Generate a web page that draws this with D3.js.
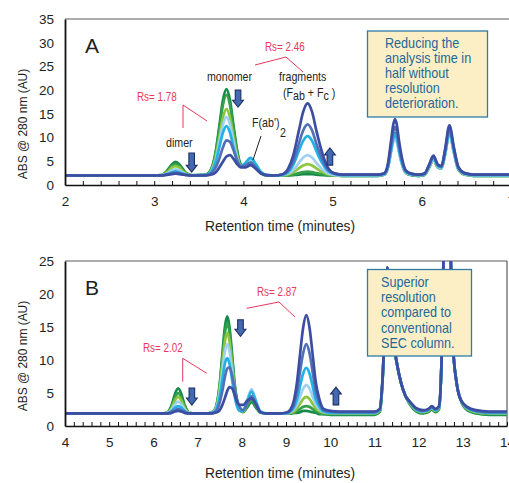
<!DOCTYPE html>
<html><head><meta charset="utf-8">
<script src="https://cdn.jsdelivr.net/npm/d3@7"></script>
<style>
html,body{margin:0;padding:0;background:#fff;}
svg{display:block;}
</style></head><body>
<svg id="chart" width="509" height="483"></svg>
<script>
// ---------------- DATA ----------------
const seriesNames = ["run 1","run 2","run 3","run 4","run 5","run 6","run 7"];
const seriesColors = ["#15894a","#35a04a","#8cc63f","#a0d0f2","#21b1e6","#5170b8","#3c4ea2"];

const xTicksA = [2,3,4,5,6,7];
const yTicksA = [0,5,10,15,20,25,30,35];
const xTicksB = [4,5,6,7,8,9,10,11,12,13,14];
const yTicksB = [0,5,10,15,20,25];

const timeA = [2.0,2.6,3.0,3.08,3.12,3.16,3.2,3.24,3.28,3.32,3.36,3.42,3.5,3.58,3.64,3.69,3.73,3.77,3.81,3.85,3.89,3.93,3.97,4.02,4.08,4.14,4.2,4.27,4.35,4.43,4.5,4.56,4.62,4.67,4.72,4.77,4.82,4.88,4.95,5.03,5.12,5.3,5.5,5.58,5.62,5.655,5.68,5.7,5.72,5.745,5.78,5.82,5.88,5.96,6.03,6.08,6.13,6.18,6.22,6.26,6.31,6.36,6.41,6.48,6.58,6.75,7.0];

const absA1 = [2.0,2.0,2.0, 2.1,2.5,3.4,4.4,4.9,4.4,3.4,2.5,2.1, 2.1,2.2,3.4,7.1,12.4,17.8,20.2,17.8,12.4,7.3,4.4,3.9,4.3,3.5,2.4,2.0, 2.0,2.0,2.0,2.1,2.2,2.3,2.3,2.3,2.2,2.1,2.0,2.0, 1.9,1.9,1.9,2.2,3.7,7.4,10.0,10.9,10.0,7.4,4.4,2.6,2.1,1.9, 2.1,3.6,5.4,3.7,3.5,6.5,11.2,7.0,3.3,2.2,1.9,1.9,1.9];
const absA2 = [2.0,2.0,2.0, 2.1,2.4,3.1,4.0,4.4,4.0,3.1,2.4,2.0, 2.1,2.2,3.3,6.8,11.7,16.8,19.0,16.8,11.7,6.9,4.3,4.0,4.5,3.6,2.5,2.0, 2.0,2.0,2.1,2.2,2.5,2.7,2.8,2.7,2.5,2.3,2.1,2.0, 1.9,1.9,1.9,2.2,3.7,7.3,9.9,10.8,9.9,7.3,4.3,2.6,2.1,1.9, 2.1,3.6,5.4,3.7,3.5,6.4,11.1,6.9,3.3,2.2,1.9,1.9,1.9];
const absA3 = [2.0,2.0,2.0, 2.1,2.4,2.9,3.7,4.0,3.7,2.9,2.4,2.0, 2.1,2.1,3.1,5.9,10.0,14.2,16.0,14.2,10.0,6.1,4.1,4.2,4.9,3.9,2.5,2.1, 2.0,2.0,2.2,2.7,3.5,4.1,4.4,4.1,3.5,2.8,2.2,2.0, 2.0,2.0,2.0,2.2,3.7,7.2,9.7,10.6,9.7,7.2,4.4,2.7,2.2,2.0, 2.2,3.7,5.5,3.8,3.6,6.5,11.0,7.0,3.4,2.3,2.0,2.0,2.0];
const absA4 = [2.0,2.0,2.0, 2.1,2.2,2.6,3.1,3.3,3.1,2.6,2.2,2.0, 2.1,2.1,2.9,5.4,9.0,12.7,14.3,12.7,9.0,5.7,4.1,4.5,5.4,4.2,2.6,2.1, 2.0,2.1,2.4,3.2,4.6,5.8,6.3,5.8,4.6,3.4,2.4,2.1, 2.0,2.0,2.0,2.2,3.6,6.8,9.0,9.8,9.0,6.8,4.2,2.6,2.2,2.0, 2.2,3.7,5.4,3.8,3.5,6.3,10.6,6.7,3.3,2.3,2.0,2.0,2.0];
const absA5 = [2.0,2.0,2.0, 2.0,2.2,2.4,2.7,2.9,2.7,2.4,2.2,2.0, 2.1,2.1,2.8,4.9,7.9,11.0,12.4,11.0,7.9,5.2,3.9,4.6,5.7,4.4,2.7,2.1, 2.0,2.1,2.7,4.3,7.1,9.3,10.3,9.3,7.1,4.7,2.9,2.3, 2.1,2.1,2.1,2.3,3.8,7.3,9.8,10.7,9.8,7.3,4.5,2.8,2.3,2.1, 2.3,3.9,5.7,4.0,3.7,6.6,11.1,7.1,3.5,2.4,2.1,2.1,2.1];
const absA6 = [2.0,2.0,2.0, 2.0,2.1,2.3,2.5,2.6,2.5,2.3,2.1,2.0, 2.0,2.1,2.5,3.7,5.6,7.9,9.4,9.1,7.3,5.2,4.0,4.1,4.7,3.7,2.5,2.1, 2.0,2.2,3.0,5.0,8.6,11.5,12.8,11.5,8.6,5.6,3.2,2.4, 2.2,2.2,2.2,2.5,4.2,8.3,11.2,12.2,11.2,8.3,5.0,3.0,2.4,2.2, 2.4,4.1,6.0,4.2,3.9,7.1,12.0,7.6,3.7,2.5,2.2,2.2,2.2];
const absA7 = [2.0,2.0,2.0, 2.0,2.1,2.2,2.3,2.4,2.3,2.2,2.1,2.0, 2.0,2.0,2.2,2.7,3.7,4.9,6.0,6.3,5.5,4.4,3.7,3.7,4.2,3.4,2.4,2.0, 2.0,2.2,3.4,6.3,11.3,15.4,17.2,15.4,11.3,7.0,3.6,2.4, 2.2,2.2,2.2,2.5,4.5,9.3,12.7,13.9,12.7,9.3,5.5,3.1,2.4,2.2, 2.4,4.2,6.2,4.3,4.0,7.4,12.6,7.9,3.8,2.5,2.2,2.2,2.2];

const timeB = [4.0,5.0,5.9,6.2,6.3,6.36,6.42,6.49,6.56,6.63,6.7,6.76,6.82,6.92,7.05,7.2,7.3,7.39,7.45,7.51,7.56,7.62,7.67,7.72,7.78,7.83,7.89,7.95,8.03,8.12,8.22,8.32,8.42,8.55,8.7,8.85,9.0,9.1,9.18,9.25,9.32,9.39,9.46,9.53,9.6,9.67,9.75,9.85,10.0,10.2,10.6,11.0,11.12,11.18,11.23,11.29,11.35,11.42,11.5,11.6,11.7,11.8,11.95,12.1,12.22,12.3,12.38,12.46,12.52,12.58,12.65,12.72,12.78,12.85,12.95,13.1,13.3,13.6,14.0];

const absB1 = [1.9,1.9,1.9, 1.9,2.0,2.4,3.3,4.9,5.7,4.9,3.3,2.4,2.0,1.9, 1.9,1.9,2.0,2.5,3.9,7.0,10.9,15.1,16.6,15.1,10.9,7.0,3.9,2.5,2.1, 2.8,3.6,2.8,2.0,1.9,1.9, 1.9,1.9,1.9,2.0,2.0,2.1,2.3,2.3,2.2,2.1,2.0,1.8,1.8,1.7, 1.7,1.7,1.7,2.1,6.2,14,24.0,19,13.5,9.8,6.6,4.6,3.3,2.2,1.9,2.1,2.5,2.1,2.5,10,30,36,27,12,7,4.0,2.4,1.9,1.7,1.7];
const absB2 = [1.9,1.9,1.9, 1.9,2.0,2.3,3.1,4.3,5.0,4.3,3.1,2.3,2.0,1.9, 1.9,1.9,2.0,2.4,3.8,6.7,10.3,14.2,15.6,14.2,10.3,6.7,3.8,2.5,2.2, 3.0,4.0,3.0,2.1,1.9,1.9, 1.9,1.9,1.9,2.0,2.3,2.6,2.9,3.0,2.9,2.6,2.3,2.0,1.8,1.8, 1.8,1.8,1.8,2.2,6.3,14,24.0,19,13.5,9.8,6.6,4.6,3.4,2.3,2.0,2.2,2.6,2.2,2.6,10,30,36,27,12,7,4.0,2.5,2.0,1.8,1.8];
const absB3 = [1.9,1.9,1.9, 1.9,2.0,2.2,2.8,3.9,4.4,3.9,2.8,2.2,2.0,1.9, 1.9,1.9,2.0,2.4,3.5,6.2,9.3,12.9,14.1,12.9,9.3,6.2,3.5,2.4,2.2, 3.3,4.5,3.3,2.1,1.9,1.9, 1.9,1.9,2.0,2.2,2.7,3.4,4.1,4.4,4.1,3.4,2.7,2.3,2.0,1.9, 1.9,1.9,1.9,2.3,6.4,14,24.0,19,13.5,9.8,6.6,4.6,3.5,2.4,2.1,2.3,2.7,2.3,2.7,10,30,36,27,12,7,4.0,2.6,2.1,1.9,1.9];
const absB4 = [1.9,1.9,1.9, 1.9,2.0,2.1,2.6,3.3,3.7,3.3,2.6,2.1,2.0,1.9, 1.9,1.9,2.0,2.3,3.3,5.6,8.3,11.4,12.4,11.4,8.3,5.6,3.3,2.4,2.3, 3.9,5.6,3.9,2.2,1.9,1.9, 1.9,1.9,2.1,2.5,3.3,4.5,5.7,6.2,5.7,4.5,3.3,2.6,2.1,2.0, 2.0,2.0,2.0,2.4,6.5,14,24.0,19,13.5,9.8,6.6,4.6,3.6,2.5,2.2,2.4,2.8,2.4,2.8,10,30,36,27,12,7,4.0,2.7,2.2,2.0,2.0];
const absB5 = [1.9,1.9,1.9, 1.9,1.9,2.0,2.3,2.8,3.0,2.8,2.3,2.0,1.9,1.9, 1.9,1.9,2.0,2.2,3.0,4.8,7.0,9.5,10.3,9.5,7.0,4.8,3.0,2.3,2.3, 3.7,5.2,3.7,2.2,1.9,1.9, 1.9,1.9,2.2,2.8,4.1,6.1,8.0,8.8,8.0,6.1,4.1,3.0,2.2,2.0, 2.0,2.0,2.0,2.4,6.5,14,24.0,19,13.5,9.8,6.6,4.6,3.6,2.5,2.2,2.4,2.8,2.4,2.8,10,30,36,27,12,7,4.0,2.7,2.2,2.0,2.0];
const absB6 = [1.9,1.9,1.9, 1.9,1.9,2.0,2.2,2.4,2.6,2.4,2.2,2.0,1.9,1.9, 1.9,1.9,1.9,2.1,2.6,3.8,5.3,7.5,8.7,8.9,7.7,6.0,4.1,2.9,2.4, 3.3,4.5,3.3,2.1,1.9,1.9, 1.9,2.0,2.3,3.3,5.3,8.3,11.1,12.4,11.1,8.3,5.4,3.6,2.4,2.2, 2.1,2.1,2.1,2.5,6.6,14,24.0,19,13.5,9.8,6.6,4.6,3.7,2.6,2.3,2.5,2.9,2.5,2.9,10,30,36,27,12,7,4.0,2.8,2.3,2.1,2.1];
const absB7 = [1.9,1.9,1.9, 1.9,1.9,1.9,2.0,2.2,2.3,2.2,2.0,1.9,1.9,1.9, 1.9,1.9,1.9,2.0,2.1,2.5,3.2,4.3,5.3,5.9,5.7,4.9,3.7,3.2,3.2, 3.8,4.2,3.3,2.1,1.9,1.9, 1.9,2.0,2.5,3.9,6.7,11.0,15.0,16.8,15.0,11.0,6.8,4.2,2.6,2.3, 2.2,2.2,2.2,2.6,6.7,14,24.0,19,13.5,9.8,6.6,4.6,3.7,2.7,2.4,2.6,3.0,2.6,3.0,10,30,36,27,12,7,4.0,2.9,2.4,2.2,2.2];

// ---------------- DRAWING ----------------
const svg = d3.select('#chart');
const REG = '"Liberation Sans", Arial, sans-serif';
const RED = '#e8385c';
const TXT = '#231f20';
const BOXTXT = '#23689a';

function arrow(g, x, y, t, v0, v1) {
  const cx = x(t), y0 = y(v0), y1 = y(v1);
  const dir = Math.sign(y1 - y0), sw = 2.8, hw = 5.4, hl = 7;
  const yb = y1 - dir * hl;
  const pts = [[cx - sw, y0], [cx + sw, y0], [cx + sw, yb], [cx + hw, yb], [cx, y1], [cx - hw, yb], [cx - sw, yb]];
  g.append('path').attr('d', 'M' + pts.map(p => p.join(',')).join('L') + 'Z')
    .attr('fill', '#4469b0').attr('stroke', '#1d2f63').attr('stroke-width', 1.1);
}

// condensed text: regular face squeezed horizontally
function ntext(g, x, y, s, size, color, anchor, sx) {
  return g.append('text').attr('transform', `translate(${x},${y}) scale(${sx || 0.82},1)`).text(s)
    .attr('font-size', size).attr('font-family', REG).attr('fill', color || TXT)
    .attr('text-anchor', anchor || 'start');
}
function text(g, x, y, s, size, color, anchor) {
  return g.append('text').attr('x', x).attr('y', y).text(s)
    .attr('font-size', size).attr('font-family', REG).attr('fill', color || TXT)
    .attr('text-anchor', anchor || 'start');
}

function drawPanel(cfg) {
  const g = svg.append('g');
  const x = d3.scaleLinear().domain(cfg.xDomain).range([cfg.left, cfg.right]);
  const y = d3.scaleLinear().domain(cfg.yDomain).range([cfg.bottom, cfg.top]);
  const clipId = 'clip' + cfg.id;
  svg.append('clipPath').attr('id', clipId).append('rect')
    .attr('x', cfg.left).attr('y', cfg.top).attr('width', cfg.right - cfg.left).attr('height', cfg.bottom - cfg.top);

  g.append('line').attr('x1', cfg.left).attr('x2', cfg.right).attr('y1', cfg.top).attr('y2', cfg.top)
    .attr('stroke', '#5a5a5a').attr('stroke-width', 1.2);
  g.append('line').attr('x1', cfg.right).attr('x2', cfg.right).attr('y1', cfg.top).attr('y2', cfg.bottom)
    .attr('stroke', '#5a5a5a').attr('stroke-width', 1.2);

  const series = cfg.values.map((v, i) => ({ name: seriesNames[i], color: seriesColors[i], values: v }));
  const line = d3.line().x((d, i) => x(cfg.times[i])).y(d => y(d)).curve(d3.curveMonotoneX);
  g.append('g').attr('clip-path', `url(#${clipId})`)
    .selectAll('path').data(series).join('path')
    .attr('d', d => line(d.values)).attr('fill', 'none')
    .attr('stroke', d => d.color).attr('stroke-width', 2.7)
    .attr('stroke-linejoin', 'round').attr('stroke-linecap', 'round');

  const minor = d3.range(cfg.xDomain[0], cfg.xDomain[1] + 1e-6, 0.2).map(v => +v.toFixed(2));
  const xa = g.append('g').attr('transform', `translate(0,${cfg.bottom})`)
    .call(d3.axisBottom(x).tickValues(minor).tickSizeInner(-4).tickSizeOuter(0).tickPadding(11)
      .tickFormat(v => cfg.xTicks.includes(Math.round(v * 100) / 100) ? d3.format('d')(v) : ''));
  xa.select('.domain').attr('stroke', '#111').attr('stroke-width', 1.6);
  xa.selectAll('.tick line').attr('stroke', '#111').attr('stroke-width', 1);
  xa.selectAll('text').attr('font-size', 13.5).attr('font-family', REG).attr('fill', TXT);

  const ya = g.append('g').attr('transform', `translate(${cfg.left},0)`)
    .call(d3.axisLeft(y).tickValues(cfg.yTicks).tickSize(0).tickPadding(11));
  ya.select('.domain').attr('stroke', '#111').attr('stroke-width', 1.8);
  ya.selectAll('text').attr('font-size', 13.5).attr('font-family', REG).attr('fill', TXT);

  ntext(g, 280, cfg.xTitleY, 'Retention time (minutes)', 15.5, TXT, 'middle', 0.89);
  g.append('text').attr('transform', `translate(26.5,${cfg.yTitleY}) rotate(-90) scale(0.92,1)`)
    .attr('text-anchor', 'middle').attr('font-size', 13).attr('font-family', REG).attr('fill', TXT)
    .text('ABS @ 280 nm (AU)');

  text(g, 85, cfg.top + 34, cfg.letter, 21, TXT);
  return { g, x, y };
}

// ---------- Panel A ----------
const A = drawPanel({
  id: 'A', letter: 'A', xDomain: [2, 7], yDomain: [0, 35], left: 65, right: 511, top: 19, bottom: 185,
  times: timeA, values: [absA1, absA2, absA3, absA4, absA5, absA6, absA7],
  xTicks: xTicksA, yTicks: yTicksA, xTitleY: 231, yTitleY: 124
});
{
  const g = A.g;
  ntext(g, 166, 147, 'dimer', 13);
  ntext(g, 207, 81, 'monomer', 13);
  ntext(g, 279, 81, 'fragments', 13);
  const fr = ntext(g, 283, 97, '', 13);
  fr.append('tspan').text('(F');
  fr.append('tspan').text('ab').attr('dy', 3);
  fr.append('tspan').text(' + F').attr('dy', -3);
  fr.append('tspan').text('c').attr('dy', 3);
  fr.append('tspan').text(' )').attr('dy', -3);
  ntext(g, 252, 127, "F(ab')", 13);
  ntext(g, 280, 137, '2', 13);
  g.append('line').attr('x1', 261).attr('y1', 136).attr('x2', 253).attr('y2', 160).attr('stroke', '#222').attr('stroke-width', 1);

  ntext(g, 137, 101, 'Rs= 1.78', 12, RED);
  g.append('path').attr('d', 'M183,128V105L207,121').attr('fill', 'none').attr('stroke', RED).attr('stroke-width', 1);
  ntext(g, 265, 51, 'Rs= 2.46', 12, RED);
  g.append('path').attr('d', 'M255,65L286,57L303,72').attr('fill', 'none').attr('stroke', RED).attr('stroke-width', 1);

  arrow(g, A.x, A.y, 3.42, 6.75, 2.7);
  arrow(g, A.x, A.y, 3.94, 20.0, 16.4);
  arrow(g, A.x, A.y, 4.97, 4.2, 7.8);

  g.append('rect').attr('x', 367.5).attr('y', 31).attr('width', 120).attr('height', 86)
    .attr('fill', '#fcefc6').attr('stroke', '#2f7aa6').attr('stroke-width', 1.3);
  ['Reducing the', 'analysis time in', 'half without', 'resolution', 'deterioration.'].forEach((s, i) =>
    ntext(g, 385, 48 + i * 15.1, s, 14.5, BOXTXT, 'start', 0.87));
}

// ---------- Panel B ----------
const B = drawPanel({
  id: 'B', letter: 'B', xDomain: [4, 14], yDomain: [0, 25], left: 65, right: 507, top: 261, bottom: 426,
  times: timeB, values: [absB1, absB2, absB3, absB4, absB5, absB6, absB7],
  xTicks: xTicksB, yTicks: yTicksB, xTitleY: 478, yTitleY: 356
});
{
  const g = B.g;
  ntext(g, 143, 352, 'Rs= 2.02', 12, RED);
  g.append('path').attr('d', 'M182.7,381.7V358.3L206.7,373.3').attr('fill', 'none').attr('stroke', RED).attr('stroke-width', 1);
  ntext(g, 257, 296, 'Rs= 2.87', 12, RED);
  g.append('path').attr('d', 'M246.7,308.3L279,302L295,317').attr('fill', 'none').attr('stroke', RED).attr('stroke-width', 1);

  arrow(g, B.x, B.y, 6.87, 5.76, 3.18);
  arrow(g, B.x, B.y, 7.97, 16.1, 13.6);
  arrow(g, B.x, B.y, 10.13, 3.2, 5.9);

  g.append('rect').attr('x', 367.5).attr('y', 269.5).attr('width', 104).attr('height', 86.5)
    .attr('fill', '#fcefc6').attr('stroke', '#2f7aa6').attr('stroke-width', 1.3);
  ['Superior', 'resolution', 'compared to', 'conventional', 'SEC column.'].forEach((s, i) =>
    ntext(g, 381, 287 + i * 15.2, s, 14.5, BOXTXT, 'start', 0.87));
}
</script>
</body></html>
